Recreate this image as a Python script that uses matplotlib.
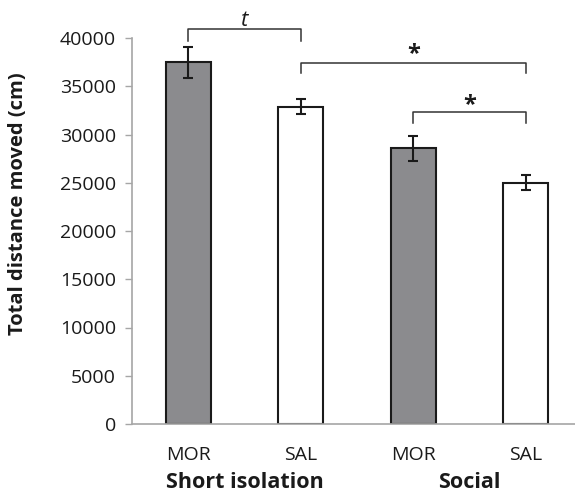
import matplotlib
matplotlib.use("Agg")
import matplotlib.pyplot as plt
from matplotlib.transforms import blended_transform_factory

plt.rcParams['font.family'] = ['Open Sans', 'DejaVu Sans']

conditions = ["MOR", "SAL", "MOR", "SAL"]
groups = ["Short isolation", "Social"]
means = [37500, 32900, 28550, 25000]
errors = [1600, 780, 1250, 780]
bar_colors = ["#8b8b8e", "#ffffff", "#8b8b8e", "#ffffff"]
yticks = [0, 5000, 10000, 15000, 20000, 25000, 30000, 35000, 40000]
# significance brackets: (left index, right index, top y, leg bottom y, label)
brackets = [(0, 1, 40900, 39700, "t"), (1, 3, 37450, 36350, "*"), (2, 3, 32350, 31200, "*")]

fig = plt.figure(figsize=(5.75, 4.96), dpi=100)
ax = fig.add_axes([132/575, 72/496, 1 - 132/575, (424-38)/496])

x = list(range(len(means)))
ax.bar(x, means, width=0.4, color=bar_colors, edgecolor="#1a1a1a", linewidth=1.5, zorder=2)
ax.errorbar(x, means, yerr=errors, fmt="none", ecolor="#1a1a1a", elinewidth=1.5,
            capsize=3.8, capthick=1.5, zorder=3)

ax.set_xlim(-0.5, (575-526)/112.5 + 3)
ax.set_ylim(0, 40000)
ax.set_yticks(yticks)
ax.set_yticklabels([str(v) for v in yticks], fontsize=14, color="#1a1a1a")
ax.tick_params(axis="y", direction="out", length=5, width=1, color="#a6a6a6", pad=6.5)
ax.set_xticks(x)
ax.set_xticklabels(conditions, fontsize=14, color="#1a1a1a")
ax.tick_params(axis="x", length=0, pad=16)

for s in ["top", "right"]:
    ax.spines[s].set_visible(False)
for s in ["left", "bottom"]:
    ax.spines[s].set_color("#a6a6a6")
    ax.spines[s].set_linewidth(1.2)

fig.text(18/575, 1 - 204/496, "Total distance moved (cm)", rotation=90, ha="center", va="center",
         fontsize=14.5, fontweight="bold", color="#1a1a1a")

trans = blended_transform_factory(ax.transData, fig.transFigure)
for gi, g in enumerate(groups):
    ax.text(gi*2 + 0.5, 1 - 482/496, g, transform=trans, ha="center", va="center",
            fontsize=15.5, fontweight="bold", color="#1a1a1a")

star_offsets = [None, 850, 650]
for (l, r, top, leg, lab), off in zip(brackets, star_offsets):
    ax.plot([l, l, r, r], [leg, top, top, leg], color="#333333", linewidth=1.1, clip_on=False, zorder=4)
    if lab == "t":
        ax.text((l + r)/2, top + 300, lab, ha="center", va="baseline", fontsize=16,
                fontstyle="italic", color="#1a1a1a", clip_on=False)
    else:
        ax.text((l + r)/2, top + off, lab, ha="center", va="center", fontsize=17,
                fontweight="bold", color="#1a1a1a", clip_on=False)

fig.savefig("out.png", dpi=100)
